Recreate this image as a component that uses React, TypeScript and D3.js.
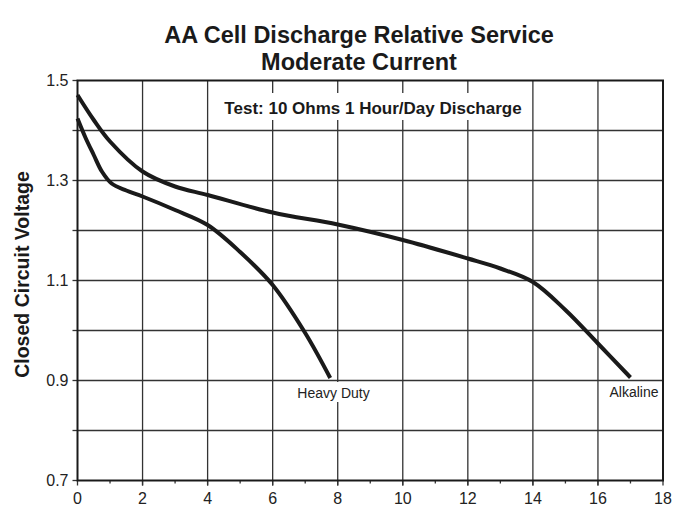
import React, { useRef, useEffect } from 'react';
import * as d3 from 'd3';

// hours of service (x) and closed circuit voltage (y)
const alkalineHours = [0, 0.5, 1, 2, 3, 4, 6, 8, 10, 12, 13, 14, 15, 16, 17];
const alkalineVolts = [1.471, 1.421, 1.378, 1.318, 1.288, 1.271, 1.236, 1.212, 1.181, 1.144, 1.124, 1.097, 1.041, 0.974, 0.906];

const heavyHours = [0, 0.25, 0.5, 0.75, 1.05, 1.5, 2, 3, 4, 5, 6, 7, 7.77];
const heavyVolts = [1.424, 1.385, 1.351, 1.318, 1.294, 1.28, 1.268, 1.241, 1.211, 1.157, 1.091, 0.995, 0.905];

const xTicks = [0, 2, 4, 6, 8, 10, 12, 14, 16, 18];
const xMinorTicks = [1, 3, 5, 7, 9, 11, 13, 15, 17];
const yTicks = [0.7, 0.8, 0.9, 1.0, 1.1, 1.2, 1.3, 1.4, 1.5];
const yLabels = [0.7, 0.9, 1.1, 1.3, 1.5];

const titleLines = ['AA Cell Discharge Relative Service', 'Moderate Current'];
const testNote = 'Test: 10 Ohms 1 Hour/Day Discharge';

const W = 686;
const H = 506;
const FONT = '"Liberation Sans", Arial, Helvetica, sans-serif';

const App: React.FC = () => {
   const svgRef = useRef<SVGSVGElement | null>(null);

   useEffect(() => {
      if (!svgRef.current) return;
      const svg = d3.select(svgRef.current);
      svg.selectAll('*').remove();

      const left = 77.5, right = 663, top = 80.5, bottom = 480.5;
      const x = d3.scaleLinear().domain([0, 18]).range([left, right]);
      const y = d3.scaleLinear().domain([0.7, 1.5]).range([bottom, top]);

      svg.append('rect').attr('width', W).attr('height', H).attr('fill', 'white');

      // title
      svg.append('g')
         .attr('font-family', FONT)
         .attr('font-weight', 'bold')
         .attr('font-size', 23.5)
         .attr('fill', '#1a1a1a')
         .attr('text-anchor', 'middle')
         .selectAll('text')
         .data(titleLines)
         .join('text')
         .attr('x', 359)
         .attr('y', (_d, i) => 43 + i * 26.5)
         .text((d) => d);

      // grid
      const grid = svg.append('g').attr('stroke', '#333').attr('stroke-width', 1.3);
      grid.selectAll('line.v')
         .data(xTicks.slice(1, -1))
         .join('line')
         .attr('class', 'v')
         .attr('x1', (d) => x(d)).attr('x2', (d) => x(d))
         .attr('y1', top).attr('y2', bottom + 5);
      grid.selectAll('line.h')
         .data(yTicks.slice(1, -1))
         .join('line')
         .attr('class', 'h')
         .attr('x1', left).attr('x2', right)
         .attr('y1', (d) => y(d)).attr('y2', (d) => y(d));

      // y ticks
      grid.selectAll('line.yt')
         .data(yTicks)
         .join('line')
         .attr('class', 'yt')
         .attr('x1', left - 5).attr('x2', left)
         .attr('y1', (d) => y(d)).attr('y2', (d) => y(d));
      // x ticks
      grid.selectAll('line.xt')
         .data(xTicks)
         .join('line')
         .attr('class', 'xt')
         .attr('x1', (d) => x(d)).attr('x2', (d) => x(d))
         .attr('y1', bottom).attr('y2', bottom + 5);
      grid.selectAll('line.xm')
         .data(xMinorTicks)
         .join('line')
         .attr('class', 'xm')
         .attr('x1', (d) => x(d)).attr('x2', (d) => x(d))
         .attr('y1', bottom).attr('y2', bottom + 3);

      // white boxes behind labels break the grid
      const boxes = [
         { x: 220, y: 93, w: 308, h: 27 },
         { x: 295, y: 382, w: 78, h: 20 },
         { x: 606, y: 382, w: 54, h: 20 },
      ];
      svg.selectAll('rect.box')
         .data(boxes)
         .join('rect')
         .attr('class', 'box')
         .attr('x', (d) => d.x).attr('y', (d) => d.y)
         .attr('width', (d) => d.w).attr('height', (d) => d.h)
         .attr('fill', 'white');

      // frame
      svg.append('rect')
         .attr('x', left).attr('y', top)
         .attr('width', right - left).attr('height', bottom - top)
         .attr('fill', 'none')
         .attr('stroke', '#1a1a1a')
         .attr('stroke-width', 2);

      // tick labels
      svg.append('g')
         .attr('font-family', FONT)
         .attr('font-size', 16)
         .attr('fill', '#222')
         .attr('text-anchor', 'end')
         .selectAll('text')
         .data(yLabels)
         .join('text')
         .attr('x', left - 9)
         .attr('y', (d) => y(d) + 5.5)
         .text((d) => d.toFixed(1));

      svg.append('g')
         .attr('font-family', FONT)
         .attr('font-size', 16)
         .attr('fill', '#222')
         .attr('text-anchor', 'middle')
         .selectAll('text')
         .data(xTicks)
         .join('text')
         .attr('x', (d) => x(d))
         .attr('y', bottom + 23)
         .text((d) => String(d));

      // y axis title
      svg.append('text')
         .attr('transform', `translate(29,${(top + bottom) / 2 - 6}) rotate(-90)`)
         .attr('font-family', FONT)
         .attr('font-weight', 'bold')
         .attr('font-size', 19.5)
         .attr('fill', '#1a1a1a')
         .attr('text-anchor', 'middle')
         .text('Closed Circuit Voltage');

      // test note
      svg.append('text')
         .attr('x', 373)
         .attr('y', 114)
         .attr('font-family', FONT)
         .attr('font-weight', 'bold')
         .attr('font-size', 17)
         .attr('fill', '#1a1a1a')
         .attr('text-anchor', 'middle')
         .text(testNote);

      // curves
      const line = d3.line<[number, number]>()
         .x((d) => x(d[0]))
         .y((d) => y(d[1]))
         .curve(d3.curveCatmullRom.alpha(0.5));

      const series = [
         alkalineHours.map((h, i) => [h, alkalineVolts[i]] as [number, number]),
         heavyHours.map((h, i) => [h, heavyVolts[i]] as [number, number]),
      ];
      svg.selectAll('path.curve')
         .data(series)
         .join('path')
         .attr('class', 'curve')
         .attr('d', (d) => line(d))
         .attr('fill', 'none')
         .attr('stroke', '#1a1a1a')
         .attr('stroke-width', 4);

      // series labels
      svg.append('text')
         .attr('x', 333.5).attr('y', 397.5)
         .attr('font-family', FONT).attr('font-size', 14).attr('fill', '#222')
         .attr('text-anchor', 'middle')
         .text('Heavy Duty');
      svg.append('text')
         .attr('x', 634).attr('y', 397)
         .attr('font-family', FONT).attr('font-size', 14).attr('fill', '#222')
         .attr('text-anchor', 'middle')
         .text('Alkaline');
   }, []);

   return (
      <div style={{ position: 'absolute', left: 0, top: 0, width: W, height: H }}>
         <svg ref={svgRef} width={W} height={H} viewBox={`0 0 ${W} ${H}`} />
      </div>
   );
};

export default App;
